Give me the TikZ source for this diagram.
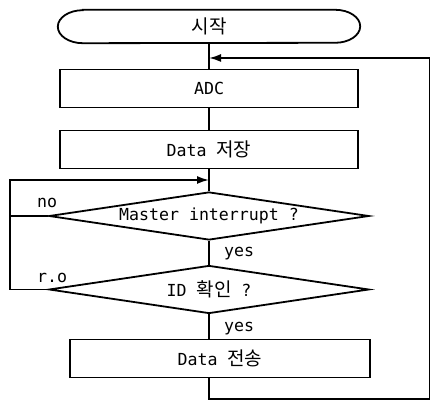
\documentclass[tikz,border=0pt]{standalone}
\usepackage{fontspec}
\setmonofont{DejaVu Sans Mono}
\newfontfamily\hangul{Noto Sans CJK KR}
\usetikzlibrary{shapes.geometric}
\usetikzlibrary{arrows.meta}
\tikzstyle{proc}=[draw, line width=1.8pt, minimum width=298pt, minimum height=38pt, inner sep=0pt]
\tikzstyle{test}=[draw, diamond, aspect=6.67, line width=1.8pt, minimum width=320pt, minimum height=48pt, inner sep=0pt]
\tikzstyle{lbl}=[inner sep=0pt, anchor=base west]
\tikzstyle{flow}=[line width=1.8pt]
\tikzstyle{into}=[flow, -{Latex[length=12pt,width=8pt]}]
\newcommand{\kor}[1]{{\fontsize{19}{22}\selectfont\hangul #1}}

\begin{document}
\begin{tikzpicture}
        [x=1pt,y=1pt,font=\fontsize{16.6}{20}\selectfont\ttfamily]
            \useasboundingbox (0,0) rectangle (430,403);
            % terminal with elliptic ends
            \node [minimum width=302pt, minimum height=33pt, inner sep=0pt] (start) at (209,376.5) {\kor{시작}};
            \draw [flow] ([xshift=25pt]start.north west) -- ([xshift=-25pt]start.north east)
                arc [start angle=90, end angle=-90, x radius=25pt, y radius=16.5pt]
                -- ([xshift=25pt]start.south west)
                arc [start angle=270, end angle=90, x radius=25pt, y radius=16.5pt] -- cycle;
            \node [proc] (adc) at (209,314.5) {ADC};
            \node [proc] (store) at (209,253.5) {Data \kor{저장}};
            \node [test] (q1) at (209,187) {Master interrupt ?};
            \node [test] (q2) at (209,113.5) {ID \kor{확인} ?};
            \node [proc, minimum width=300pt] (send) at (220,44.5) {Data \kor{전송}};
            \coordinate (join) at (209,345);
            \coordinate (merge) at (209,223);
            \coordinate (lx) at (10,0);
            \coordinate (bot) at (209,4);
            \coordinate (rx) at (430.3,4);
            % main line
            \draw [flow] (start) -- (adc);
            \draw [flow] (adc) -- (store);
            \draw [flow] (store) -- (q1);
            \draw [flow] (q1) -- (q2);
            \draw [flow] (q2.south) -- (q2.south |- send.north);
            % back to the top
            \draw [into] (send.south -| bot) -- (bot) -- (rx) -- (rx |- join) -- (join);
            % the two no branches
            \draw [flow] (q1.west) -- (q1.west -| lx);
            \draw [into] (q2.west) -- (q2.west -| lx) -- (lx |- merge) -- (merge);
            \node [lbl] (no1) at (37,195) {no};
            \node [lbl] (no2) at (37,120) {r.o};
            \node [lbl] (yes1) at (224,146) {yes};
            \node [lbl] (yes2) at (224,71) {yes};
        \end{tikzpicture}
\end{document}
